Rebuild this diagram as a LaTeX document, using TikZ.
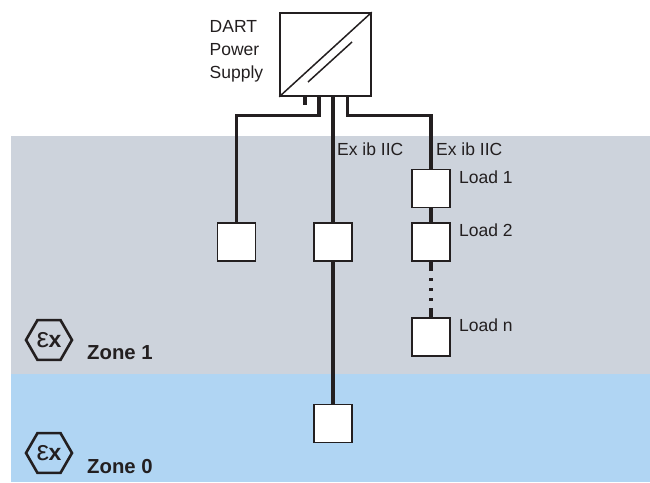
\documentclass[tikz,border=0pt]{standalone}
\usepackage{fontspec}
\setmainfont{Liberation Sans}
\usepackage{tikz}
\usetikzlibrary{positioning,shapes.geometric}
\definecolor{czoneone}{HTML}{CDD3DC}
\definecolor{czonezero}{HTML}{B0D5F3}
\definecolor{cline}{HTML}{231F20}
\newcommand{\exsign}{{\fontsize{28}{28}\selectfont ε}\kern-0.5pt{\fontsize{23}{23}\selectfont\bfseries x}}

\begin{document}
\begin{tikzpicture}[x=1pt, y=-1pt, font=\fontsize{17.5}{23}\selectfont, text=cline,
  load/.style={draw=cline, fill=white, line width=1.5pt, minimum width=38pt, minimum height=38pt, inner sep=0pt},
  wire/.style={draw=cline, line width=3.1pt},
  lab/.style={inner sep=0pt, anchor=west},
  zone/.style={inner sep=0pt, anchor=west, font=\fontsize{20.3}{20}\selectfont\bfseries},
  exmark/.style={draw=cline, line width=2.6pt, regular polygon, regular polygon sides=6, minimum size=46pt, inner sep=0pt}]
\useasboundingbox (0,0) rectangle (650,482);
\fill[czoneone] (11,136) rectangle (650,374);
\fill[czonezero] (11,374) rectangle (650,482);

\node[draw=cline, line width=1.5pt, minimum width=91pt, minimum height=83pt, inner sep=0pt] (psu) at (325.5,54.5) {};
\draw[cline, line width=1.5pt] (psu.south west) -- (psu.north east);
\coordinate (dcstart) at (308,82);
\coordinate (dcend) at (352,42);
\draw[cline, line width=1.5pt] (dcstart) -- (dcend);
\node[inner sep=0pt, anchor=north west, align=left] (psulab) at (209.5,20.5) {DART\\Power\\Supply};

\node[load] (sensa) at (236.5,242) {};
\node[load] (sensb) at (333,242) {};
\node[load] (sensc) at (333,423.5) {};
\node[load] (loada) at (431,188.5) {};
\node[load] (loadb) at (431,242) {};
\node[load] (loadn) at (431,337) {};

\coordinate (stub) at (305,105);
\draw[wire] (psu.south -| stub) -- (stub);
\coordinate (outa) at (319,96);
\coordinate (outc) at (347.5,96);
\draw[wire] (outa) -- (319,115.5) -| (sensa.north);
\draw[wire] (outc) -- (347.5,115.5) -| (loada.north);
\draw[wire] (psu.south -| sensb) -- (sensb.north);
\draw[wire] (sensb.south) -- (sensc.north);
\draw[wire] (loada.south) -- (loadb.north);
\draw[wire] (loadb.south) -- +(0,9);
\draw[wire] (loadn.north) -- +(0,-9);
\draw[wire, dash pattern=on 3pt off 7pt] (431,278) -- (431,302);

\node[lab] (exb) at (337,149) {Ex ib IIC};
\node[lab] (exc) at (436,149) {Ex ib IIC};
\node[lab] (laba) at (459,177) {Load 1};
\node[lab] (labb) at (459,230) {Load 2};
\node[lab] (labn) at (459,325) {Load n};

\node[exmark] (exone) at (49,340) {\exsign};
\node[exmark] (exzero) at (49,453) {\exsign};
\node[zone] (zoneone) at (87,353) {Zone 1};
\node[zone] (zonezero) at (87,467) {Zone 0};
\end{tikzpicture}
\end{document}
